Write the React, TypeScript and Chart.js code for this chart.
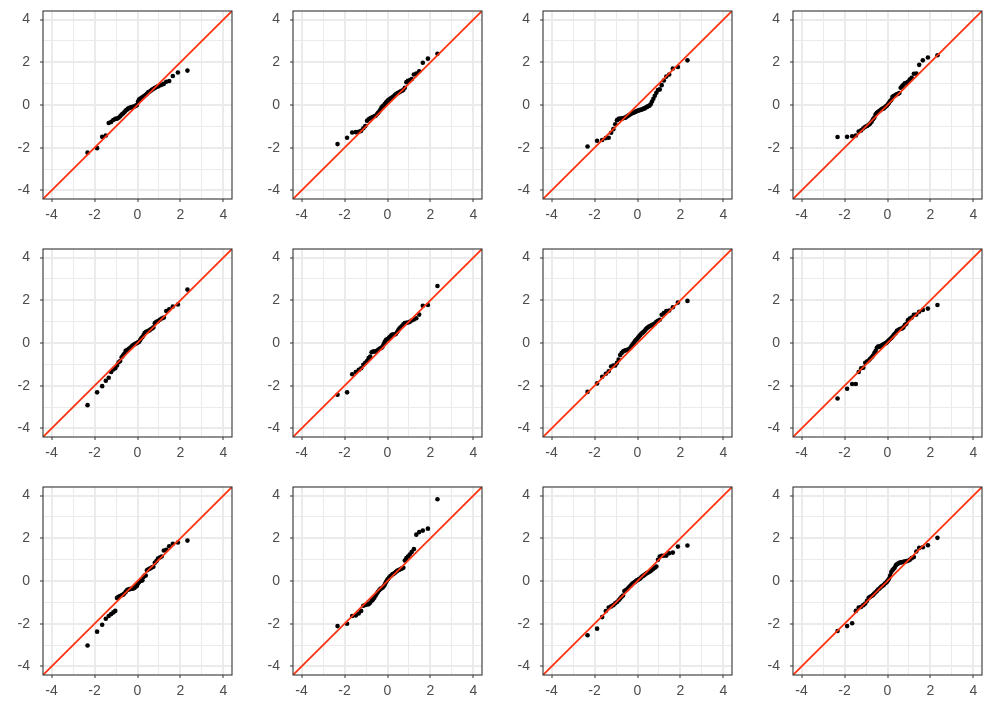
import React, { useEffect, useRef } from "react";
import { Chart, registerables } from "chart.js";

Chart.register(...registerables);

// Theoretical normal quantiles (n = 50) shared by every panel
const QUANTILES = [
  -2.326, -1.881, -1.645, -1.476, -1.341, -1.227, -1.126, -1.036, -0.954, -0.878,
  -0.806, -0.739, -0.674, -0.613, -0.553, -0.496, -0.440, -0.385, -0.332, -0.279,
  -0.228, -0.176, -0.126, -0.075, -0.025, 0.025, 0.075, 0.126, 0.176, 0.228,
  0.279, 0.332, 0.385, 0.440, 0.496, 0.553, 0.613, 0.674, 0.739, 0.806,
  0.878, 0.954, 1.036, 1.126, 1.227, 1.341, 1.476, 1.645, 1.881, 2.326,
];

// Sample quantiles per panel (row by row)
const PANEL_1 = [
  -2.23, -2.02, -1.49, -1.43, -0.84, -0.79, -0.70, -0.65, -0.64, -0.60,
  -0.53, -0.45, -0.40, -0.34, -0.26, -0.22, -0.17, -0.14, -0.12, -0.11,
  -0.09, -0.08, -0.06, -0.03, 0.0, 0.16, 0.25, 0.29, 0.33, 0.36,
  0.39, 0.43, 0.48, 0.53, 0.59, 0.62, 0.67, 0.71, 0.76, 0.79,
  0.84, 0.87, 0.91, 0.95, 0.99, 1.09, 1.12, 1.36, 1.52, 1.61,
];
const PANEL_2 = [
  -1.83, -1.53, -1.29, -1.27, -1.26, -1.21, -1.09, -0.98, -0.74, -0.67,
  -0.62, -0.59, -0.56, -0.53, -0.50, -0.43, -0.37, -0.31, -0.22, -0.12,
  -0.06, -0.02, 0.05, 0.11, 0.16, 0.22, 0.26, 0.29, 0.33, 0.36,
  0.40, 0.45, 0.50, 0.54, 0.57, 0.60, 0.64, 0.67, 0.71, 0.81,
  1.07, 1.13, 1.16, 1.21, 1.43, 1.47, 1.58, 1.98, 2.17, 2.40,
];
const PANEL_3 = [
  -1.94, -1.67, -1.64, -1.55, -1.53, -1.30, -1.13, -0.90, -0.71, -0.65,
  -0.64, -0.64, -0.62, -0.60, -0.59, -0.54, -0.50, -0.47, -0.43, -0.40,
  -0.37, -0.36, -0.33, -0.31, -0.28, -0.26, -0.25, -0.23, -0.22, -0.20,
  -0.17, -0.16, -0.12, -0.09, -0.06, -0.03, 0.03, 0.16, 0.29, 0.43,
  0.57, 0.70, 0.73, 0.93, 1.15, 1.33, 1.43, 1.71, 1.78, 2.09,
];
const PANEL_4 = [
  -1.50, -1.49, -1.46, -1.43, -1.24, -1.19, -1.09, -1.02, -0.98, -0.93,
  -0.87, -0.78, -0.67, -0.59, -0.43, -0.37, -0.33, -0.28, -0.25, -0.20,
  -0.17, -0.16, -0.11, -0.06, -0.02, 0.05, 0.11, 0.19, 0.23, 0.37,
  0.42, 0.43, 0.48, 0.50, 0.53, 0.56, 0.81, 0.88, 0.95, 1.01,
  1.04, 1.09, 1.19, 1.27, 1.46, 1.47, 1.88, 2.09, 2.22, 2.33,
];
const PANEL_5 = [
  -2.91, -2.31, -2.02, -1.77, -1.63, -1.36, -1.24, -1.18, -1.05, -0.90,
  -0.84, -0.67, -0.59, -0.50, -0.37, -0.34, -0.31, -0.26, -0.22, -0.17,
  -0.12, -0.08, -0.05, -0.02, 0.0, 0.03, 0.06, 0.14, 0.22, 0.28,
  0.36, 0.47, 0.51, 0.54, 0.56, 0.59, 0.64, 0.68, 0.73, 0.93,
  0.99, 1.02, 1.09, 1.15, 1.19, 1.50, 1.58, 1.71, 1.80, 2.50,
];
const PANEL_6 = [
  -2.42, -2.31, -1.46, -1.36, -1.26, -1.18, -1.02, -0.93, -0.84, -0.71,
  -0.64, -0.43, -0.40, -0.40, -0.39, -0.36, -0.33, -0.28, -0.25, -0.22,
  -0.16, -0.05, 0.06, 0.14, 0.17, 0.20, 0.25, 0.29, 0.36, 0.39,
  0.40, 0.40, 0.42, 0.50, 0.59, 0.68, 0.74, 0.79, 0.87, 0.93,
  0.95, 0.96, 0.99, 1.05, 1.10, 1.16, 1.33, 1.74, 1.78, 2.67,
];
const PANEL_7 = [
  -2.29, -1.89, -1.58, -1.44, -1.32, -1.10, -1.05, -1.05, -0.93, -0.78,
  -0.56, -0.47, -0.40, -0.36, -0.34, -0.33, -0.31, -0.28, -0.22, -0.14,
  -0.06, 0.0, 0.08, 0.14, 0.19, 0.25, 0.31, 0.37, 0.43, 0.48,
  0.51, 0.57, 0.64, 0.70, 0.74, 0.78, 0.81, 0.84, 0.88, 0.91,
  0.99, 1.04, 1.09, 1.32, 1.40, 1.50, 1.52, 1.67, 1.89, 1.97,
];
const PANEL_8 = [
  -2.60, -2.14, -1.92, -1.92, -1.36, -1.18, -1.16, -0.93, -0.87, -0.82,
  -0.74, -0.67, -0.59, -0.47, -0.37, -0.22, -0.17, -0.17, -0.16, -0.12,
  -0.09, -0.06, -0.03, 0.0, 0.03, 0.09, 0.14, 0.19, 0.23, 0.29,
  0.36, 0.42, 0.48, 0.57, 0.60, 0.64, 0.67, 0.68, 0.73, 0.84,
  0.90, 1.07, 1.15, 1.19, 1.32, 1.33, 1.46, 1.55, 1.61, 1.78,
];
const PANEL_9 = [
  -3.02, -2.37, -2.05, -1.77, -1.64, -1.55, -1.47, -1.40, -0.79, -0.74,
  -0.70, -0.67, -0.64, -0.59, -0.51, -0.43, -0.40, -0.39, -0.37, -0.36,
  -0.36, -0.34, -0.31, -0.26, -0.22, -0.12, -0.05, 0.0, 0.02, 0.03,
  0.19, 0.25, 0.26, 0.50, 0.54, 0.57, 0.60, 0.64, 0.67, 0.85,
  0.93, 1.05, 1.10, 1.15, 1.43, 1.46, 1.63, 1.74, 1.80, 1.89,
];
const PANEL_10 = [
  -2.11, -2.00, -1.64, -1.61, -1.52, -1.40, -1.16, -1.12, -1.10, -1.09,
  -1.02, -0.93, -0.87, -0.78, -0.68, -0.59, -0.50, -0.43, -0.37, -0.34,
  -0.31, -0.25, -0.16, -0.06, 0.03, 0.09, 0.16, 0.22, 0.26, 0.31,
  0.34, 0.37, 0.42, 0.47, 0.50, 0.53, 0.56, 0.59, 0.62, 0.96,
  1.07, 1.15, 1.24, 1.36, 1.49, 2.17, 2.29, 2.36, 2.45, 3.83,
];
const PANEL_11 = [
  -2.54, -2.23, -1.69, -1.41, -1.24, -1.19, -1.13, -1.04, -0.98, -0.90,
  -0.82, -0.74, -0.68, -0.47, -0.43, -0.40, -0.34, -0.28, -0.23, -0.17,
  -0.12, -0.08, -0.05, 0.0, 0.03, 0.06, 0.09, 0.12, 0.17, 0.22,
  0.25, 0.29, 0.34, 0.37, 0.40, 0.43, 0.47, 0.53, 0.57, 0.62,
  0.68, 0.99, 1.15, 1.18, 1.18, 1.19, 1.30, 1.33, 1.61, 1.66,
];
const PANEL_12 = [
  -2.34, -2.11, -1.98, -1.40, -1.24, -1.21, -1.13, -1.05, -0.93, -0.79,
  -0.74, -0.70, -0.65, -0.59, -0.53, -0.47, -0.40, -0.36, -0.31, -0.26,
  -0.22, -0.19, -0.12, -0.08, -0.03, 0.03, 0.12, 0.26, 0.42, 0.50,
  0.56, 0.62, 0.73, 0.78, 0.82, 0.85, 0.87, 0.88, 0.90, 0.91,
  0.93, 0.95, 0.99, 1.07, 1.12, 1.38, 1.55, 1.58, 1.67, 2.02,
];

const PANELS = [
  PANEL_1, PANEL_2, PANEL_3, PANEL_4,
  PANEL_5, PANEL_6, PANEL_7, PANEL_8,
  PANEL_9, PANEL_10, PANEL_11, PANEL_12,
];

const AXIS_MIN = -4.4;
const AXIS_MAX = 4.4;
const TICK_VALUES = [-4, -3, -2, -1, 0, 1, 2, 3, 4];
const REFERENCE_LINE = [-4.4, 4.4];

const COLS = 4;
const CELL_W = 250;
const CELL_H = 238;
const FONT = "'Liberation Sans', Arial, Helvetica, sans-serif";

const panelBorder = {
  id: "panelBorder",
  afterDatasetsDraw(chart: any) {
    const { ctx, chartArea } = chart;
    ctx.save();
    ctx.strokeStyle = "#333333";
    ctx.lineWidth = 1.1;
    ctx.strokeRect(
      chartArea.left,
      chartArea.top,
      chartArea.right - chartArea.left,
      chartArea.bottom - chartArea.top
    );
    ctx.restore();
  },
};

function isMajor(v: number) {
  return Math.abs(v % 2) < 1e-9;
}

function makeAxis(position: "left" | "bottom") {
  return {
    type: "linear",
    position,
    min: AXIS_MIN,
    max: AXIS_MAX,
    afterBuildTicks: (scale: any) => {
      scale.ticks = TICK_VALUES.map((v) => ({ value: v }));
    },
    afterFit: (scale: any) => {
      if (position === "left") {
        scale.width = 43;
        scale.paddingTop = 0;
        scale.paddingBottom = 0;
      } else {
        scale.height = 39;
        scale.paddingLeft = 0;
        scale.paddingRight = 0;
      }
    },
    grid: {
      color: "#ebebeb",
      lineWidth: (c: any) => (c.tick && isMajor(c.tick.value) ? 2 : 1),
      drawTicks: true,
      tickLength: 3,
      tickWidth: 1,
      tickColor: (c: any) =>
        c.tick && isMajor(c.tick.value) ? "#333333" : "rgba(0,0,0,0)",
    },
    border: { display: false },
    ticks: {
      autoSkip: false,
      maxRotation: 0,
      color: "#4d4d4d",
      padding: position === "left" ? 10 : 5,
      font: { family: FONT, size: 14 },
      callback: (v: any) => (isMajor(Number(v)) ? String(v) : ""),
    },
  };
}

function Panel({ values, index }: { values: number[]; index: number }) {
  const ref = useRef<HTMLCanvasElement | null>(null);

  useEffect(() => {
    if (!ref.current) return;
    const chart = new Chart(ref.current, {
      type: "scatter",
      data: {
        datasets: [
          {
            type: "line",
            data: REFERENCE_LINE.map((v) => ({ x: v, y: v })),
            borderColor: "#ff3311",
            borderWidth: 1.8,
            pointRadius: 0,
            showLine: true,
            fill: false,
            clip: 0,
          } as any,
          {
            data: QUANTILES.map((q, i) => ({ x: q, y: values[i] })),
            backgroundColor: "#000000",
            borderWidth: 0,
            pointRadius: 2.3,
            pointHoverRadius: 2.3,
          },
        ],
      },
      options: {
        responsive: false,
        animation: false,
        devicePixelRatio: 1,
        layout: { padding: { top: 11, right: 18, left: 0, bottom: 0 } },
        scales: {
          x: makeAxis("bottom") as any,
          y: makeAxis("left") as any,
        },
        plugins: {
          legend: { display: false },
          tooltip: { enabled: false },
        },
        events: [],
      },
      plugins: [panelBorder],
    });
    return () => chart.destroy();
  }, [values]);

  const col = index % COLS;
  const row = Math.floor(index / COLS);
  return (
    <canvas
      ref={ref}
      width={CELL_W}
      height={CELL_H}
      style={{
        position: "absolute",
        left: col * CELL_W,
        top: row * CELL_H,
        width: CELL_W,
        height: CELL_H,
      }}
    />
  );
}

export default function App() {
  return (
    <div
      style={{
        position: "absolute",
        left: 0,
        top: 0,
        width: 1000,
        height: 714,
        background: "#ffffff",
        overflow: "hidden",
      }}
    >
      {PANELS.map((values, i) => (
        <Panel key={i} values={values} index={i} />
      ))}
    </div>
  );
}
